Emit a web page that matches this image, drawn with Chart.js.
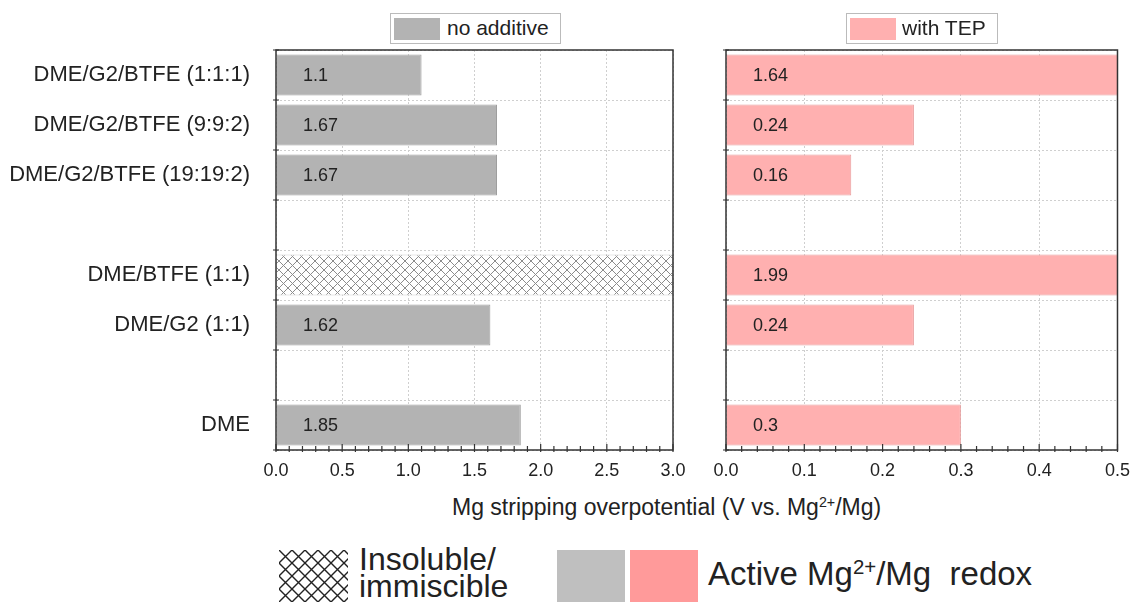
<!DOCTYPE html>
<html>
<head>
<meta charset="utf-8">
<script src="https://cdn.jsdelivr.net/npm/chart.js@4/dist/chart.umd.min.js"></script>
<style>
  body { margin: 0; background: #fff; width: 1140px; height: 602px; position: relative; overflow: hidden;
         font-family: 'Liberation Sans', Arial, sans-serif; color: #222; }
  canvas.panel { position: absolute; top: 0; }
  .key { position: absolute; top: 13px; height: 29px; border: 1px solid #bbb; background: #fff; }
  .key span.sw { position: absolute; left: 3px; top: 4px; width: 46px; height: 22px; }
  .key span.tx { position: absolute; top: 2px; font-size: 21px; white-space: nowrap; }
  .txt { position: absolute; white-space: nowrap; }
  sup { font-size: 62%; vertical-align: 0; position: relative; top: -0.55em; }
</style>
</head>
<body>
<canvas id="left" class="panel" width="700" height="490" style="left:0"></canvas>
<canvas id="right" class="panel" width="440" height="490" style="left:700px"></canvas>

<div class="key" style="left:390px;width:169px">
  <span class="sw" style="background:#b3b3b3"></span><span class="tx" style="left:56px">no additive</span>
</div>
<div class="key" style="left:846px;width:150px">
  <span class="sw" style="background:#ffb0b0"></span><span class="tx" style="left:55px">with TEP</span>
</div>

<div class="txt" style="left:452px;top:494px;font-size:23px;line-height:26px">Mg stripping overpotential (V vs. Mg<sup>2+</sup>/Mg)</div>

<canvas id="hatchKey" width="69" height="52" style="position:absolute;left:279px;top:550px"></canvas>
<div class="txt" style="left:359px;top:546px;font-size:32px;line-height:27px">Insoluble/<br>immiscible</div>
<div style="position:absolute;left:557px;top:550px;width:68px;height:54px;background:#bfbfbf"></div>
<div style="position:absolute;left:630px;top:550px;width:68px;height:54px;background:#ff9a9a"></div>
<div class="txt" style="left:708px;top:554px;font-size:33px;line-height:40px">Active Mg<sup>2+</sup>/Mg&nbsp; redox</div>

<script>
// rows top to bottom, '' = empty spacer row
const rows = ['DME/G2/BTFE (1:1:1)', 'DME/G2/BTFE (9:9:2)', 'DME/G2/BTFE (19:19:2)', '',
              'DME/BTFE (1:1)', 'DME/G2 (1:1)', '', 'DME'];
const noAdditive = [1.1, 1.67, 1.67, null, 3.0, 1.62, null, 1.85];
const insoluble  = [false, false, false, false, true, false, false, false];
const withTEP    = [1.64, 0.24, 0.16, null, 1.99, 0.24, null, 0.3];

function hatchTile(color, size, lw) {
  const c = document.createElement('canvas');
  c.width = c.height = size;
  const g = c.getContext('2d');
  g.fillStyle = '#fff';
  g.fillRect(0, 0, size, size);
  g.strokeStyle = color;
  g.lineWidth = lw;
  g.beginPath();
  g.moveTo(0, 0); g.lineTo(size, size);
  g.moveTo(size, 0); g.lineTo(0, size);
  g.stroke();
  return c;
}

// frame, inward ticks and the value labels inside the bars
const framePlugin = {
  id: 'framePlugin',
  afterDatasetsDraw(chart, args, opts) {
    const { ctx, chartArea: a, scales: { x, y } } = chart;
    const ds = chart.data.datasets[0];
    const meta = chart.getDatasetMeta(0);
    const x0 = x.getPixelForValue(0);
    ctx.save();
    ctx.font = '18px "Liberation Sans", Arial, sans-serif';
    ctx.fillStyle = '#222';
    ctx.textBaseline = 'middle';
    ds.data.forEach((v, i) => {
      if (v === null || (opts.hide && opts.hide[i])) return;
      ctx.fillText(String(v), x0 + 27, meta.data[i].y + 1);
    });

    ctx.strokeStyle = '#333';
    ctx.lineWidth = 1.5;
    ctx.strokeRect(a.left, a.top, a.width, a.height);

    ctx.lineWidth = 1.2;
    ctx.beginPath();
    const n = Math.round(opts.max / opts.minor);
    const every = Math.round(opts.major / opts.minor);
    for (let k = 0; k <= n; k++) {
      const px = x.getPixelForValue(k * opts.minor);
      const len = k % every === 0 ? 6 : 4;
      ctx.moveTo(px, a.bottom + 2);
      ctx.lineTo(px, a.bottom - len);
    }
    for (let i = 0; i <= rows.length; i++) {
      const py = y.getPixelForValue(i - 0.5);
      ctx.moveTo(a.left - 3, py);
      ctx.lineTo(a.left + 3, py);
    }
    ctx.stroke();
    ctx.restore();
  }
};

function makePanel(id, values, fill, border, max, major, minor, yWidth, padRight, showLabels, hide) {
  return new Chart(document.getElementById(id), {
    type: 'bar',
    data: {
      labels: rows,
      datasets: [{
        data: values,
        backgroundColor: fill,
        borderColor: border,
        borderWidth: 1,
        barPercentage: 0.82,
        categoryPercentage: 1
      }]
    },
    options: {
      indexAxis: 'y',
      responsive: false,
      animation: false,
      layout: { padding: { top: 50, right: padRight, left: 0, bottom: 0 } },
      plugins: {
        legend: { display: false },
        tooltip: { enabled: false },
        framePlugin: { max: max, major: major, minor: minor, hide: hide }
      },
      scales: {
        x: {
          min: 0, max: max,
          ticks: {
            stepSize: major, padding: 10, color: '#222',
            font: { family: "'Liberation Sans', Arial, sans-serif", size: 18 },
            callback: v => v.toFixed(1)
          },
          grid: { color: '#cfcfcf', lineWidth: 1, drawTicks: false, tickLength: 0 },
          border: { display: false, dash: [2, 2] },
          afterFit(s) { s.height = 40; }
        },
        y: {
          ticks: {
            display: showLabels, padding: 26, color: '#222',
            font: { family: "'Liberation Sans', Arial, sans-serif", size: 22 }
          },
          grid: { color: '#cfcfcf', lineWidth: 1, drawTicks: false, tickLength: 0 },
          border: { display: false, dash: [2, 2] },
          afterFit(s) { s.width = yWidth; }
        }
      }
    },
    plugins: [framePlugin]
  });
}

const leftCtx = document.getElementById('left').getContext('2d');
const hatch = leftCtx.createPattern(hatchTile('#8c8c8c', 9, 1), 'repeat');
const leftFill = insoluble.map(f => f ? hatch : '#b3b3b3');
const leftBorder = insoluble.map(f => f ? '#d0d0d0' : '#9e9e9e');

makePanel('left', noAdditive, leftFill, leftBorder, 3.0, 0.5, 0.1, 276, 27, true, insoluble);
makePanel('right', withTEP, '#ffb0b0', '#e79c9c', 0.5, 0.1, 0.02, 26, 17, false, null);

// legend swatch for the hatch
const hk = document.getElementById('hatchKey').getContext('2d');
hk.fillStyle = hk.createPattern(hatchTile('#222', 13, 1.4), 'repeat');
hk.fillRect(0, 0, 69, 52);
</script>
</body>
</html>
